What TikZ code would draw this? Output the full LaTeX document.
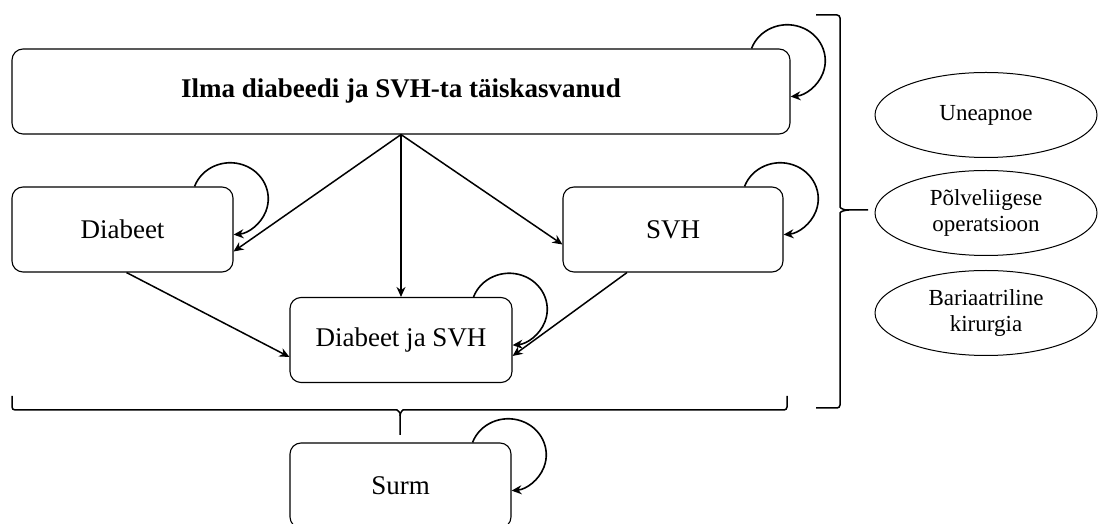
\documentclass[tikz,border=0pt]{standalone}
\usepackage{fontspec}
\setmainfont{Liberation Serif}
\usetikzlibrary{arrows.meta,shapes.geometric}

\begin{document}
\begin{tikzpicture}[
  x=1pt, y=1pt,
  font=\fontsize{27}{32}\selectfont,
  >={Stealth[length=10pt,width=9pt]},
  state/.style={
    draw=black,
    line width=1.1pt,
    rounded corners=11pt,
    minimum height=85pt,
    inner sep=0pt
  },
  factor/.style={
    draw=black,
    line width=1pt,
    ellipse,
    minimum width=222pt,
    minimum height=85pt,
    inner sep=0pt,
    align=center,
    font=\fontsize{23}{26}\selectfont
  },
  move/.style={->,line width=1.5pt},
  selfloop/.style={->,line width=1.6pt},
  bracket/.style={line width=1.5pt,rounded corners=3pt}
]
  \useasboundingbox (0,0) rectangle (1099,524);

  % Health states of the model.
  \node[state,minimum width=778pt,font=\fontsize{27}{32}\selectfont\bfseries] (healthy) at (401,432.5) {
    Ilma diabeedi ja SVH-ta täiskasvanud
  };
  \node[state,minimum width=221pt] (diab) at (122.5,294.5) {Diabeet};
  \node[state,minimum width=220pt] (svh) at (673,294.5) {SVH};
  \node[state,minimum width=222pt] (both) at (401,184) {Diabeet ja SVH};
  \node[state,minimum width=221pt] (death) at (400.5,38.5) {Surm};

  % Transitions between states.
  \draw[move] (healthy.south) -- ([yshift=-22pt]diab.east);
  \draw[move] (healthy.south) -- ([yshift=-15pt]svh.west);
  \draw[move] (healthy.south) -- (both.north);
  \draw[move] ([xshift=4pt]diab.south) -- ([yshift=-17pt]both.west);
  \draw[move] ([xshift=-46pt]svh.south) -- ([yshift=-16pt]both.east);

  % Staying in the same state.
  \foreach \s in {healthy,diab,svh,both,death}
    \draw[selfloop] ([xshift=-39pt]\s.north east)
      arc[start angle=160,end angle=-85,x radius=38pt,y radius=36pt];

  % Braces grouping the living states.
  \draw[bracket] (816,509) -- (840,509) -- (840,320) to[out=-90,in=180] (849,314) -- (868,314);
  \draw[bracket] (849,314) to[out=180,in=90] (840,308) -- (840,116) -- (816,116);
  \draw[bracket] (12,128) -- (12,114) -- (394,114) to[out=0,in=90] (400,108) -- (400,89);
  \draw[bracket] (400,108) to[out=90,in=180] (406,114) -- (787,114) -- (787,128);

  % Comorbidities and procedures.
  \node[factor] (apnea) at (986,409) {Uneapnoe};
  \node[factor] (knee) at (986,311) {Põlveliigese\\operatsioon};
  \node[factor] (surgery) at (986,211) {Bariaatriline\\kirurgia};
\end{tikzpicture}
\end{document}
